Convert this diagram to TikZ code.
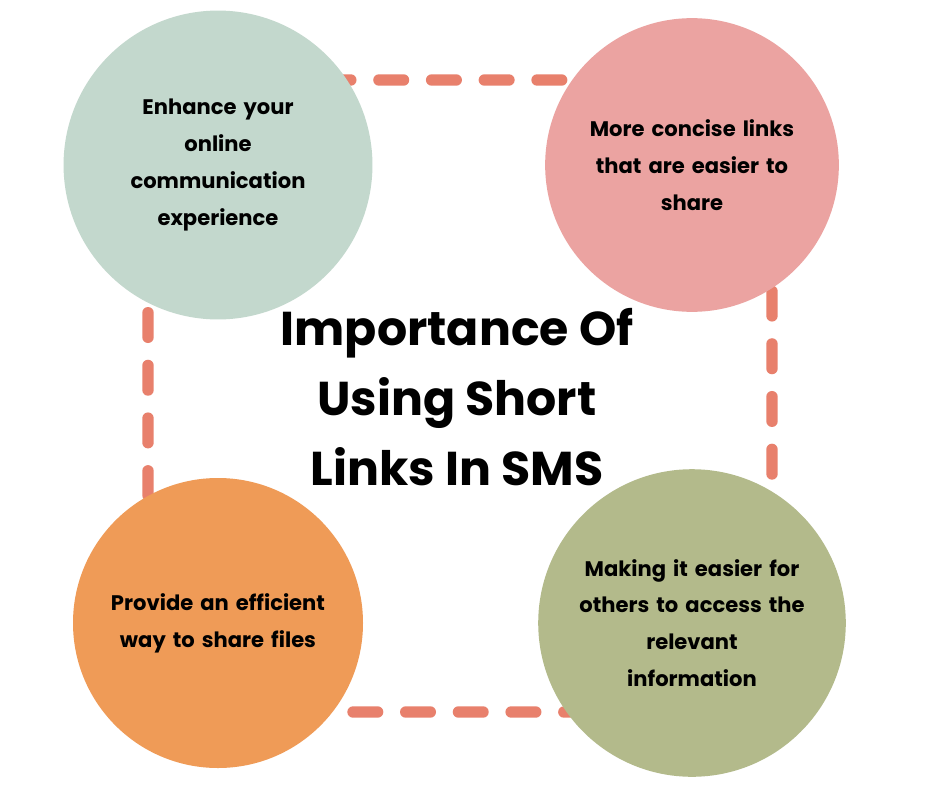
\documentclass[tikz,border=0pt]{standalone}
\usepackage{fontspec}
\setmainfont{Poppins}
\definecolor{cg}{HTML}{C3D8CD}
\definecolor{cp}{HTML}{EBA3A1}
\definecolor{co}{HTML}{EF9B57}
\definecolor{col}{HTML}{B3BA8B}
\definecolor{dash}{HTML}{E8806C}
\begin{document}
\begin{tikzpicture}[x=0.02cm,y=-0.02cm,
 blob/.style={circle,minimum size=290*0.02cm,inner sep=0pt,align=center,font=\fontsize{12pt}{21pt}\selectfont\bfseries,text width=5.6cm},
 loop/.style={draw=dash,line width=6.5pt,line cap=round,dash pattern=on 14pt off 16pt}]
\useasboundingbox (0,0) rectangle (940,788);
\fill[white] (0,0) rectangle (940,788);
\draw[loop,rounded corners=180*0.02cm] (148,80) rectangle (772,712);
\node[blob,fill=cg] (a) at (218,165) {Enhance your\\online\\communication\\experience};
\node[blob,fill=cp] (b) at (692,165) {More concise links\\that are easier to\\share};
\node[blob,fill=co] (c) at (218,623) {Provide an efficient\\way to share files};
\node[blob,fill=col] (d) at (692,623) {Making it easier for\\others to access the\\relevant\\information};
\node[align=center,font=\fontsize{27pt}{40pt}\selectfont\bfseries] (t) at (457,397) {Importance Of\\Using Short\\Links In SMS};
\end{tikzpicture}
\end{document}
